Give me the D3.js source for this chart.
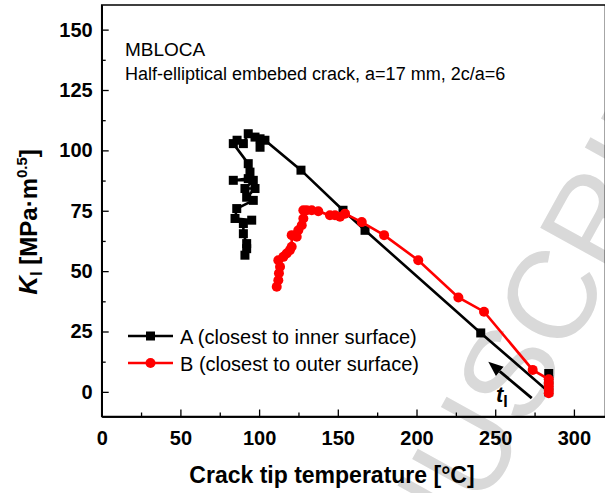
<!DOCTYPE html>
<html>
<head>
<meta charset="utf-8">
<script src="https://cdn.jsdelivr.net/npm/d3@7"></script>
<style>
  body { margin: 0; background: #fff; }
  svg { display: block; }
  text { font-family: Arial, "Liberation Sans", sans-serif; }
</style>
</head>
<body>
<svg id="chart" width="605" height="493"></svg>
<script>
// Series A: crack front point closest to the inner surface
const tempA = [284, 284, 284, 284, 240.8, 167.3, 153.3, 126.6, 103.7, 100.6, 100.6, 97.4, 93.1, 90, 86, 83.6,
               93.1, 94.2, 93.1, 83.6, 96.3, 91, 97.4, 92.1, 96.3, 85.8, 84.7, 95.3, 90, 90, 92.1, 92.1, 91];
const kA    = [7.6, 5, 2.5, 0, 24.4, 66.9, 75.2, 91.8, 104.2, 101.3, 104.8, 105.5, 106.9, 102.8, 104.2, 102.8,
               94.5, 91, 88.3, 87.6, 87.6, 84.2, 84.2, 80.6, 79.3, 75.9, 71.8, 71.1, 69.7, 65.5, 61.4, 59.3, 56.6];

// Series B: crack front point closest to the outer surface
const tempB = [284, 284, 284, 284, 284, 273.8, 242.9, 226.6, 201.1, 179.4, 165.2, 154.6, 151.4, 148.2, 145,
               137.6, 133.4, 130.2, 128.1, 128.1, 127.1, 124.9, 123.9, 120.7, 120.7, 119.6, 117.5, 115.4,
               112.2, 113.3, 112.6, 112.2, 111.2];
const kB    = [-0.6, 0.8, 2.3, 3.7, 5.2, 9.1, 33.2, 39.1, 54.5, 64.9, 70.3, 73.8, 72.5, 73.1, 73.1,
               74.8, 75.2, 75.2, 75.2, 71.8, 69.0, 66.9, 64.2, 64.9, 60.1, 58.7, 57.3, 55.9,
               54.5, 51.8, 49.1, 46.2, 43.5];

const xTicks = [0, 50, 100, 150, 200, 250, 300];
const xMinor = [25, 75, 125, 175, 225, 275];
const yTicks = [0, 25, 50, 75, 100, 125, 150];
const yMinor = [12.5, 37.5, 62.5, 87.5, 112.5, 137.5];

const legendLabels = ["A (closest to inner surface)", "B (closest to outer surface)"];
const headerLines = ["MBLOCA", "Half-elliptical embebed crack, a=17 mm, 2c/a=6"];

const svg = d3.select("#chart");
const plotL = 101.7, plotR = 605.4, plotT = 5, plotB = 416.5;

const x = d3.scaleLinear().domain([0, 320]).range([plotL, plotR]);
const y = d3.scaleLinear().domain([-10.2, 160.2]).range([plotB, plotT]);

const sq = 9, rad = 5, lw = 2.6;

// faint diagonal watermark behind the plot
const wmAngle = -61;
svg.append("text")
  .attr("transform", `translate(348,752) rotate(${wmAngle})`)
  .attr("font-size", 125)
  .attr("fill", "#d9d9d9")
  .text("MANUSCRIPT");

// frame
svg.append("rect")
  .attr("x", plotL).attr("y", plotT)
  .attr("width", plotR - plotL).attr("height", plotB - plotT)
  .attr("fill", "none").attr("stroke", "#000").attr("stroke-width", 1.5);

// axes: ticks point into the plot
svg.append("g").attr("transform", `translate(0,${plotB})`)
  .call(d3.axisBottom(x).tickValues(xTicks).tickSizeInner(-7).tickSizeOuter(0).tickPadding(14));
svg.append("g").attr("transform", `translate(0,${plotB})`)
  .call(d3.axisBottom(x).tickValues(xMinor).tickSizeInner(-4).tickSizeOuter(0).tickFormat(""));
svg.append("g").attr("transform", `translate(${plotL},0)`)
  .call(d3.axisLeft(y).tickValues(yTicks).tickSizeInner(-7).tickSizeOuter(0).tickPadding(9));
svg.append("g").attr("transform", `translate(${plotL},0)`)
  .call(d3.axisLeft(y).tickValues(yMinor).tickSizeInner(-4).tickSizeOuter(0).tickFormat(""));

svg.selectAll(".domain").attr("stroke", "#000").attr("stroke-width", 1.5);
svg.selectAll(".tick line").attr("stroke", "#000").attr("stroke-width", 1.3);
svg.selectAll(".tick text")
  .attr("font-family", "Arial, 'Liberation Sans', sans-serif")
  .attr("font-size", 20).attr("font-weight", "bold").attr("fill", "#000");

// axis titles
svg.append("text")
  .attr("x", 332).attr("y", 483)
  .attr("text-anchor", "middle")
  .attr("font-size", 23).attr("font-weight", "bold")
  .text("Crack tip temperature [°C]");

const yTitle = svg.append("text")
  .attr("transform", "translate(37,222) rotate(-90)")
  .attr("text-anchor", "middle")
  .attr("font-weight", "bold");
yTitle.append("tspan").attr("font-size", 26).attr("font-style", "italic").text("K");
yTitle.append("tspan").attr("font-size", 17).attr("dy", 5).text("I");
yTitle.append("tspan").attr("font-size", 24).attr("dy", -5).text(" [MPa·m");
yTitle.append("tspan").attr("font-size", 15).attr("dy", -10).text("0.5");
yTitle.append("tspan").attr("font-size", 24).attr("dy", 10).text("]");

// header text
headerLines.forEach((t, i) => {
  svg.append("text")
    .attr("x", 125).attr("y", 56 + i * 24)
    .attr("font-size", i === 0 ? 19 : 18)
    .text(t);
});

// data series
const seriesA = tempA.map((t, i) => [t, kA[i]]);
const seriesB = tempB.map((t, i) => [t, kB[i]]);
const line = d3.line().x(d => x(d[0])).y(d => y(d[1]));

svg.append("path").datum(seriesA)
  .attr("d", line).attr("fill", "none").attr("stroke", "#000").attr("stroke-width", lw);
svg.append("g").selectAll("rect").data(seriesA).join("rect")
  .attr("x", d => x(d[0]) - sq / 2).attr("y", d => y(d[1]) - sq / 2)
  .attr("width", sq).attr("height", sq).attr("fill", "#000");

svg.append("path").datum(seriesB)
  .attr("d", line).attr("fill", "none").attr("stroke", "#ff0000").attr("stroke-width", lw);
svg.append("g").selectAll("circle").data(seriesB).join("circle")
  .attr("cx", d => x(d[0])).attr("cy", d => y(d[1]))
  .attr("r", rad).attr("fill", "#ff0000");

// legend
const legendColors = ["#000", "#ff0000"];
legendLabels.forEach((lab, i) => {
  const ly = 336 + i * 27;
  svg.append("line").attr("x1", 128).attr("x2", 173).attr("y1", ly).attr("y2", ly)
    .attr("stroke", legendColors[i]).attr("stroke-width", lw);
  if (i === 0) {
    svg.append("rect").attr("x", 150.5 - sq / 2).attr("y", ly - sq / 2)
      .attr("width", sq).attr("height", sq).attr("fill", "#000");
  } else {
    svg.append("circle").attr("cx", 150.5).attr("cy", ly).attr("r", rad).attr("fill", "#ff0000");
  }
  svg.append("text").attr("x", 180).attr("y", ly + 7.5)
    .attr("font-size", 20).text(lab);
});

// time direction arrow
const arrowFrom = [273.2, -2.6], arrowTo = [245.6, 12.5];
const ax0 = x(arrowFrom[0]), ay0 = y(arrowFrom[1]);
const ax1 = x(arrowTo[0]), ay1 = y(arrowTo[1]);
const ang = Math.atan2(ay1 - ay0, ax1 - ax0);
const headLen = 15, headHalf = 6;
const bx = ax1 - headLen * Math.cos(ang), by = ay1 - headLen * Math.sin(ang);
svg.append("line").attr("x1", ax0).attr("y1", ay0).attr("x2", bx).attr("y2", by)
  .attr("stroke", "#000").attr("stroke-width", 2.8);
svg.append("path")
  .attr("d", `M${ax1},${ay1} L${bx + headHalf * Math.sin(ang)},${by - headHalf * Math.cos(ang)} L${bx - headHalf * Math.sin(ang)},${by + headHalf * Math.cos(ang)} Z`)
  .attr("fill", "#000");

const tLab = svg.append("text").attr("x", 496).attr("y", 402);
tLab.append("tspan").attr("font-size", 22).attr("font-weight", "bold").attr("font-style", "italic").text("t");
tLab.append("tspan").attr("font-size", 16).attr("font-weight", "bold").attr("dy", 5).text("I");
</script>
</body>
</html>
